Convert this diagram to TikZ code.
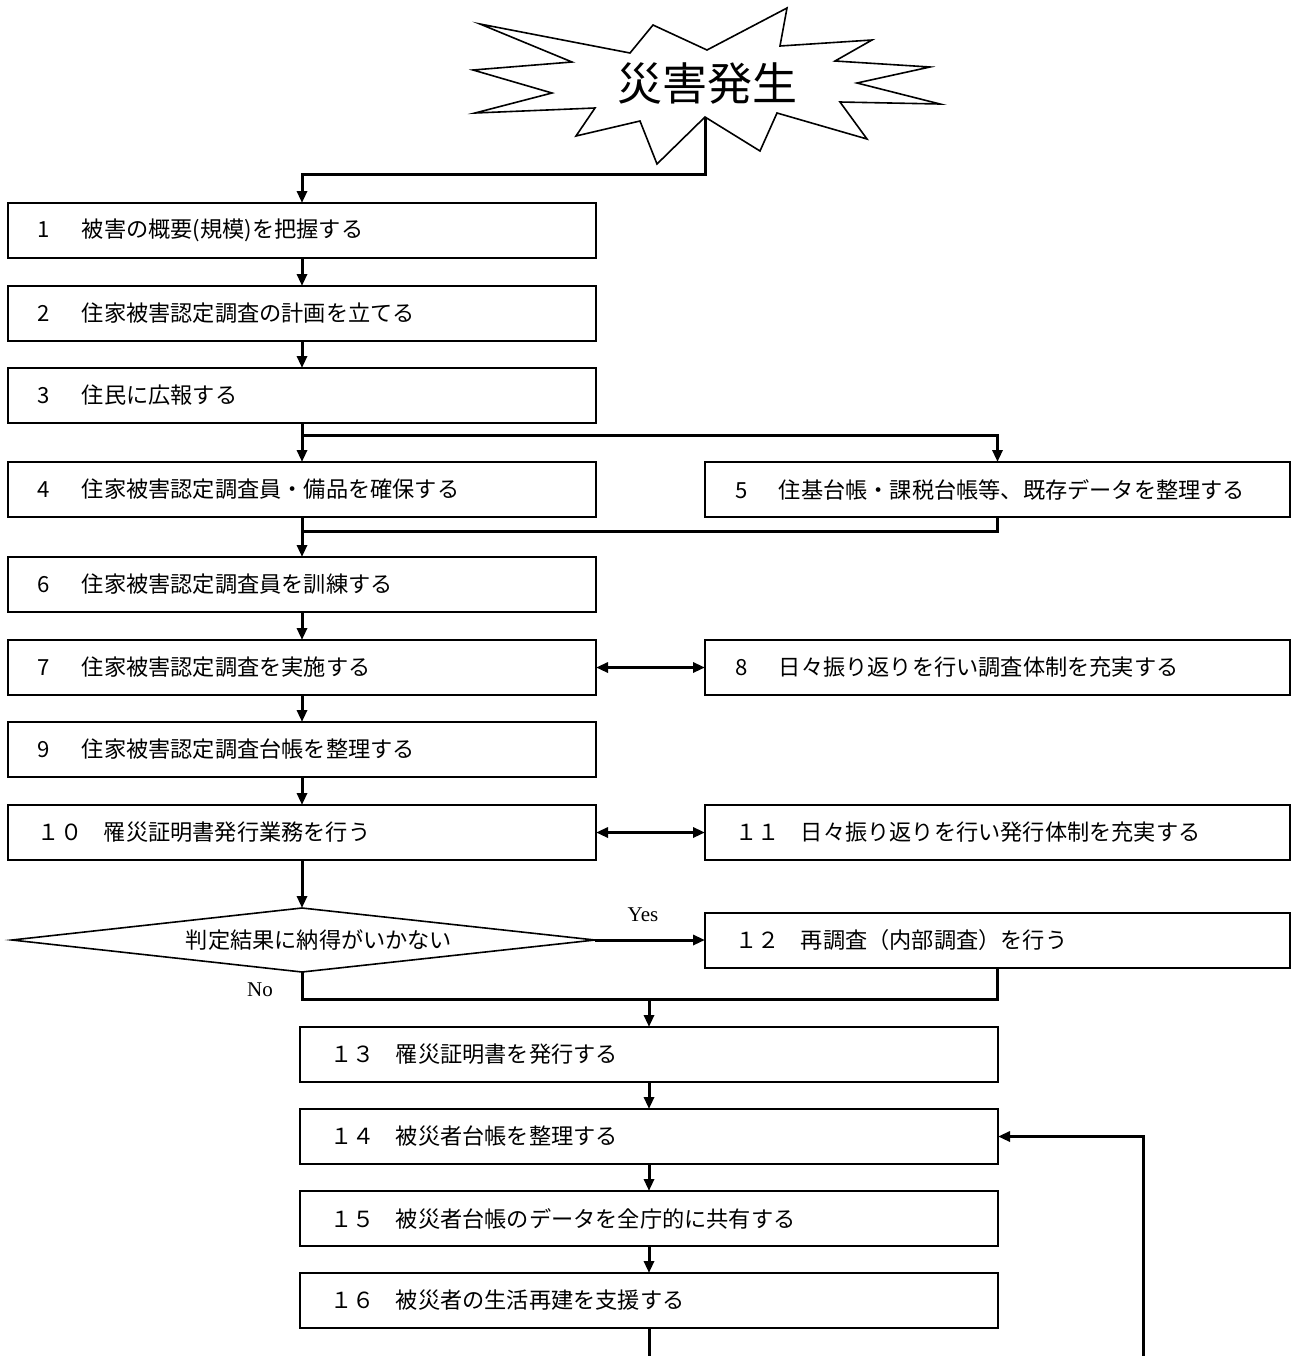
\documentclass[tikz,border=0pt]{standalone}
\usepackage{fontspec}
\newfontfamily\jfont{Noto Sans CJK JP}
\newfontfamily\lfont{Liberation Serif}
\usetikzlibrary{arrows.meta}
% number cell followed by the step text
\newcommand\numA[2]{\makebox[22pt][l]{#1}#2}
\newcommand\numB[2]{\makebox[33pt][l]{#1}#2}
\begin{document}
\begin{tikzpicture}[x=0.5pt,y=-0.5pt,
  stepbox/.style={draw, line width=1.4pt, anchor=north west, minimum height=27.5pt,
    inner xsep=15pt, inner ysep=0pt, outer sep=0pt, align=left,
    font=\jfont\fontsize{11.1pt}{13pt}\selectfont},
  wleft/.style={stepbox, text width=264pt},
  wright/.style={stepbox, text width=262.5pt},
  wlow/.style={stepbox, text width=319pt},
  link/.style={line width=1.5pt},
  tip/.tip={Triangle[length=6pt,width=5pt]},
  arr/.style={link, -tip},
  dbl/.style={link, tip-tip},
  outline/.style={line width=0.8pt, line join=miter},
  answer/.style={font=\lfont\fontsize{10.5pt}{12pt}\selectfont, inner sep=0pt},
]
\useasboundingbox (0,0) rectangle (1293,1356);

% burst with the title
\draw[outline] (480,24) -- (630,53) -- (653,25) -- (707,50) -- (787,8) -- (780,46)
  -- (872,40) -- (835,61) -- (930,67) -- (857,83) -- (940,104) -- (840,102)
  -- (867,139) -- (777,113) -- (760,151) -- (705,117) -- (657,164) -- (640,121)
  -- (576,136) -- (595,108) -- (475,113) -- (552,93) -- (473,70) -- (572,62) -- cycle;
\coordinate (starfoot) at (705,117);
\node[font=\jfont\fontsize{22.5pt}{26pt}\selectfont, inner sep=0pt] (title) at (707,84) {災害発生};

% steps
\node[wleft] (b1) at (8,203) {\numA{1}{被害の概要(規模)を把握する}};
\node[wleft] (b2) at (8,286) {\numA{2}{住家被害認定調査の計画を立てる}};
\node[wleft] (b3) at (8,368) {\numA{3}{住民に広報する}};
\node[wleft] (b4) at (8,462) {\numA{4}{住家被害認定調査員・備品を確保する}};
\node[wright] (b5) at (705,462) {\numA{5}{住基台帳・課税台帳等、既存データを整理する}};
\node[wleft] (b6) at (8,557) {\numA{6}{住家被害認定調査員を訓練する}};
\node[wleft] (b7) at (8,640) {\numA{7}{住家被害認定調査を実施する}};
\node[wright] (b8) at (705,640) {\numA{8}{日々振り返りを行い調査体制を充実する}};
\node[wleft] (b9) at (8,722) {\numA{9}{住家被害認定調査台帳を整理する}};
\node[wleft] (b10) at (8,805) {\numB{１０}{罹災証明書発行業務を行う}};
\node[wright] (b11) at (705,805) {\numB{１１}{日々振り返りを行い発行体制を充実する}};
\node[wright] (b12) at (705,913) {\numB{１２}{再調査（内部調査）を行う}};
\node[wlow] (b13) at (300,1027) {\numB{１３}{罹災証明書を発行する}};
\node[wlow] (b14) at (300,1109) {\numB{１４}{被災者台帳を整理する}};
\node[wlow] (b15) at (300,1191) {\numB{１５}{被災者台帳のデータを全庁的に共有する}};
\node[wlow] (b16) at (300,1273) {\numB{１６}{被災者の生活再建を支援する}};

% decision
\coordinate (dt) at (302,908);
\coordinate (dr) at (595,940);
\coordinate (db) at (302,972);
\coordinate (dl) at (12,940);
\draw[outline] (dt) -- (dr) -- (db) -- (dl) -- cycle;
\node[font=\jfont\fontsize{11.1pt}{13pt}\selectfont, inner sep=0pt] (q) at (319,940) {判定結果に納得がいかない};
\node[answer] (yes) at (643,915) {Yes};
\node[answer] (no) at (260,990) {No};

% connectors
\draw[arr] (starfoot) -- ++(0,57) -| (b1.north);
\draw[arr] (b1) -- (b2);
\draw[arr] (b2) -- (b3);
\coordinate (split) at (302,435);
\draw[link] (b3.south) -- (split);
\draw[arr] (split) -- (b4.north);
\draw[arr] (split) -| (b5.north);
\coordinate (merge) at (302,531);
\draw[link] (b4.south) -- (merge);
\draw[link] (b5.south) |- (merge);
\draw[arr] (merge) -- (b6.north);
\draw[arr] (b6) -- (b7);
\draw[dbl] (b7.east) -- (b8.west);
\draw[arr] (b7) -- (b9);
\draw[arr] (b9) -- (b10);
\draw[dbl] (b10.east) -- (b11.west);
\draw[arr] (b10.south) -- (dt);
\draw[arr] (dr) -- (dr -| b12.west);
\coordinate (join) at (649,999);
\draw[link] (db) |- (join);
\draw[link] (b12.south) |- (join);
\draw[arr] (join) -- (b13.north);
\draw[arr] (b13) -- (b14);
\draw[arr] (b14) -- (b15);
\draw[arr] (b15) -- (b16);
\coordinate (endA) at (649,1356);
\coordinate (endB) at (1143,1356);
\draw[link] (b16.south) -- (endA);
\draw[arr] (endB) |- (b14.east);
\end{tikzpicture}
\end{document}
